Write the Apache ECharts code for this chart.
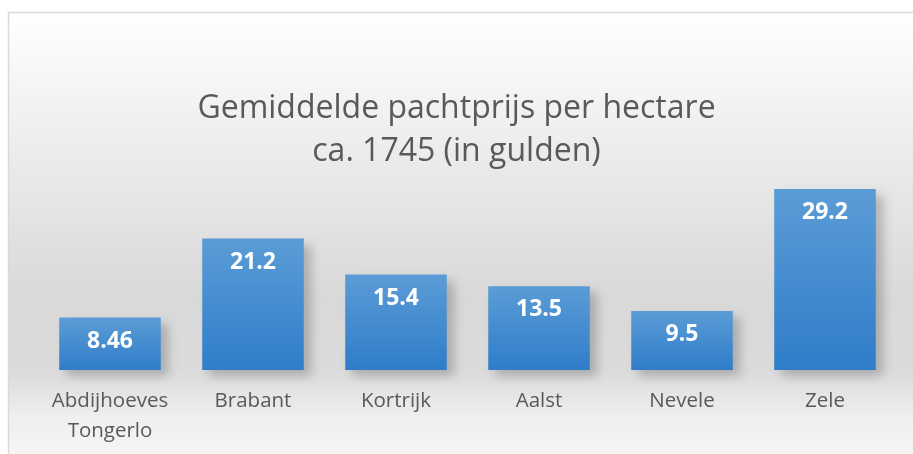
<!DOCTYPE html>
<html>
<head>
<meta charset="UTF-8">
<title>Gemiddelde pachtprijs per hectare</title>
<script src="https://cdn.jsdelivr.net/npm/echarts@6/dist/echarts.min.js"></script>
<style>
  html, body { margin: 0; padding: 0; background: #fff; }
  #main { width: 913px; height: 454px; }
</style>
</head>
<body>
<div id="main"></div>
<script>
// gegevens
var regios = ['Abdijhoeves\nTongerlo', 'Brabant', 'Kortrijk', 'Aalst', 'Nevele', 'Zele'];
var pachtprijs = [8.46, 21.2, 15.4, 13.5, 9.5, 29.2];
var titel = 'Gemiddelde pachtprijs per hectare\nca. 1745 (in gulden)';

var myChart = echarts.init(document.getElementById('main'));

var option = {
  backgroundColor: '#ffffff',
  animation: false,
  graphic: [{
    type: 'rect',
    z: -10,
    shape: { x: 8.5, y: 12.5, width: 920, height: 460 },
    style: {
      fill: new echarts.graphic.LinearGradient(0, 0, 0, 1, [
        { offset: 0, color: '#ffffff' },
        { offset: 0.3, color: '#ececec' },
        { offset: 0.62, color: '#d9d9d9' },
        { offset: 0.78, color: '#dbdbdb' },
        { offset: 0.88, color: '#efefef' },
        { offset: 1, color: '#f8f8f8' }
      ]),
      stroke: '#d9d9d9',
      lineWidth: 1.5
    }
  }],
  title: {
    text: titel,
    left: 'center',
    top: 82,
    textStyle: {
      fontFamily: 'Open Sans',
      fontWeight: 'normal',
      fontSize: 32,
      lineHeight: 43,
      color: '#595959'
    }
  },
  grid: {
    left: 38.5,
    right: 16.5,
    top: 153,
    bottom: 84,
    containLabel: false
  },
  xAxis: {
    type: 'category',
    data: regios,
    axisLine: { show: false },
    axisTick: { show: false },
    axisLabel: {
      margin: 16,
      fontFamily: 'Open Sans',
      fontSize: 20.5,
      lineHeight: 30,
      color: '#595959',
      interval: 0
    }
  },
  yAxis: {
    type: 'value',
    min: 0,
    max: 35,
    show: false,
    splitLine: { show: false }
  },
  series: [{
    type: 'bar',
    data: pachtprijs,
    barCategoryGap: '29%',
    itemStyle: {
      color: new echarts.graphic.LinearGradient(0, 0, 0, 1, [
        { offset: 0, color: '#5b9cd6' },
        { offset: 1, color: '#2f7dc9' }
      ]),
      shadowColor: 'rgba(0,0,0,0.22)',
      shadowBlur: 10,
      shadowOffsetX: 7,
      shadowOffsetY: 6
    },
    label: {
      show: true,
      position: 'insideTop',
      distance: 12,
      fontFamily: 'Open Sans',
      fontWeight: 'bold',
      fontSize: 23,
      color: '#ffffff'
    }
  }]
};

myChart.setOption(option);
</script>
</body>
</html>
